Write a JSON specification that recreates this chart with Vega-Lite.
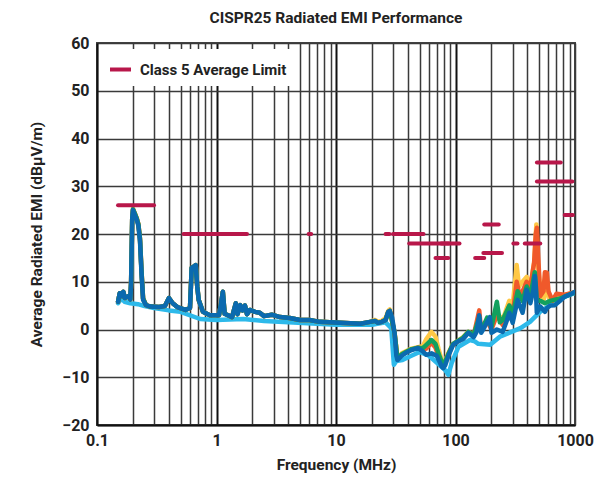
{
  "$schema": "https://vega.github.io/schema/vega-lite/v6.json",
  "width": 478,
  "height": 382,
  "autosize": {"type": "none"},
  "padding": {"left": 97, "top": 43, "right": 29, "bottom": 68},
  "background": "white",
  "title": {"text": "CISPR25 Radiated EMI Performance", "font": "Roboto", "fontSize": 15.5, "fontWeight": "bold", "color": "#222222", "anchor": "middle", "offset": 9},
  "config": {"view": {"stroke": "#444444", "strokeWidth": 2}, "font": "Roboto"},
  "resolve": {"scale": {"color": "independent"}},
  "layer": [
    {
      "data": {"values": [
        {"s":"lb","f":0.15,"v":5.5},{"s":"lb","f":0.16,"v":6.5},{"s":"lb","f":0.17,"v":5.8},{"s":"lb","f":0.19,"v":5.5},{"s":"lb","f":0.22,"v":5.3},{"s":"lb","f":0.25,"v":4.9},{"s":"lb","f":0.3,"v":4.5},{"s":"lb","f":0.4,"v":4.0},{"s":"lb","f":0.5,"v":3.7},{"s":"lb","f":0.73,"v":2.2},{"s":"lb","f":1.0,"v":2.0},{"s":"lb","f":1.67,"v":2.2},{"s":"lb","f":2.5,"v":1.8},{"s":"lb","f":4,"v":1.5},{"s":"lb","f":10,"v":1.0},{"s":"lb","f":20,"v":1.0},{"s":"lb","f":26,"v":1.5},{"s":"lb","f":29,"v":0.3},{"s":"lb","f":30.5,"v":-7.4},{"s":"lb","f":32,"v":-6.6},{"s":"lb","f":36,"v":-6.4},{"s":"lb","f":41,"v":-5.7},{"s":"lb","f":50,"v":-4.7},{"s":"lb","f":60,"v":-5.5},{"s":"lb","f":68,"v":-6.7},{"s":"lb","f":82,"v":-8.5},{"s":"lb","f":87,"v":-9.5},{"s":"lb","f":93,"v":-7.0},{"s":"lb","f":106,"v":-3.6},{"s":"lb","f":132,"v":-2.2},{"s":"lb","f":145,"v":-2.5},{"s":"lb","f":155,"v":-3.0},{"s":"lb","f":195,"v":-3.2},{"s":"lb","f":235,"v":-1.5},{"s":"lb","f":350,"v":0.3},{"s":"lb","f":420,"v":1.6},{"s":"lb","f":510,"v":3.7},{"s":"lb","f":620,"v":5.1},{"s":"lb","f":760,"v":6.5},{"s":"lb","f":1000,"v":7.7},

        {"s":"yl","f":0.15,"v":5.8},{"s":"yl","f":0.155,"v":7.6},{"s":"yl","f":0.161,"v":7.0},{"s":"yl","f":0.166,"v":7.9},{"s":"yl","f":0.171,"v":6.6},{"s":"yl","f":0.185,"v":7.0},{"s":"yl","f":0.19,"v":6.3},{"s":"yl","f":0.193,"v":10},{"s":"yl","f":0.197,"v":23},{"s":"yl","f":0.2,"v":25.2},{"s":"yl","f":0.207,"v":24.3},{"s":"yl","f":0.215,"v":23.3},{"s":"yl","f":0.222,"v":22.0},{"s":"yl","f":0.229,"v":19},{"s":"yl","f":0.236,"v":12},{"s":"yl","f":0.243,"v":6.5},{"s":"yl","f":0.257,"v":5.1},{"s":"yl","f":0.28,"v":4.8},{"s":"yl","f":0.33,"v":4.7},{"s":"yl","f":0.37,"v":4.9},{"s":"yl","f":0.4,"v":6.6},{"s":"yl","f":0.43,"v":5.5},{"s":"yl","f":0.47,"v":4.7},{"s":"yl","f":0.55,"v":4.1},{"s":"yl","f":0.6,"v":4.5},{"s":"yl","f":0.62,"v":12.9},{"s":"yl","f":0.645,"v":13.2},{"s":"yl","f":0.67,"v":13.5},{"s":"yl","f":0.69,"v":9},{"s":"yl","f":0.71,"v":6.2},{"s":"yl","f":0.77,"v":3.7},{"s":"yl","f":0.88,"v":3.0},{"s":"yl","f":1.05,"v":3.0},{"s":"yl","f":1.1,"v":6},{"s":"yl","f":1.13,"v":7.9},{"s":"yl","f":1.17,"v":3.3},{"s":"yl","f":1.35,"v":2.6},{"s":"yl","f":1.45,"v":5.5},{"s":"yl","f":1.5,"v":3.2},{"s":"yl","f":1.58,"v":5.1},{"s":"yl","f":1.65,"v":4.0},{"s":"yl","f":1.73,"v":5.0},{"s":"yl","f":1.8,"v":3.2},{"s":"yl","f":1.9,"v":4.1},{"s":"yl","f":2.1,"v":3.7},{"s":"yl","f":2.3,"v":3.5},{"s":"yl","f":2.5,"v":2.8},{"s":"yl","f":2.9,"v":3.1},{"s":"yl","f":3.4,"v":2.6},{"s":"yl","f":4.1,"v":2.4},{"s":"yl","f":5,"v":2.0},{"s":"yl","f":6,"v":2.0},{"s":"yl","f":7.3,"v":1.6},{"s":"yl","f":10.8,"v":1.4},{"s":"yl","f":16,"v":1.2},{"s":"yl","f":19.3,"v":1.6},{"s":"yl","f":21.2,"v":2.0},{"s":"yl","f":22.5,"v":1.6},{"s":"yl","f":24.2,"v":1.8},{"s":"yl","f":26,"v":2.4},{"s":"yl","f":27.4,"v":3.9},{"s":"yl","f":28.2,"v":4.2},
        {"s":"yl","f":30.9,"v":-0.5},{"s":"yl","f":32.7,"v":-6.0},{"s":"yl","f":35.5,"v":-5.0},{"s":"yl","f":42.9,"v":-4.0},{"s":"yl","f":48.6,"v":-3.7},{"s":"yl","f":53.3,"v":-3.5},{"s":"yl","f":57,"v":-2.0},{"s":"yl","f":62.9,"v":-0.5},{"s":"yl","f":68,"v":-1.5},{"s":"yl","f":72,"v":-4},{"s":"yl","f":76.8,"v":-6.5},{"s":"yl","f":79,"v":-7.5},{"s":"yl","f":86.9,"v":-5.0},{"s":"yl","f":95.5,"v":-3.0},{"s":"yl","f":116,"v":-1.6},{"s":"yl","f":128,"v":-0.5},{"s":"yl","f":142,"v":-1.0},{"s":"yl","f":158,"v":2.0},{"s":"yl","f":164,"v":0},{"s":"yl","f":184,"v":2.0},{"s":"yl","f":200,"v":0.5},{"s":"yl","f":222,"v":3.5},{"s":"yl","f":248,"v":2},{"s":"yl","f":282,"v":6},{"s":"yl","f":301,"v":5},{"s":"yl","f":325,"v":13.5},{"s":"yl","f":340,"v":9},{"s":"yl","f":364,"v":10},{"s":"yl","f":394,"v":11},{"s":"yl","f":423,"v":9},{"s":"yl","f":455,"v":14},{"s":"yl","f":475,"v":22},{"s":"yl","f":490,"v":14},{"s":"yl","f":512,"v":8},{"s":"yl","f":540,"v":6},{"s":"yl","f":560,"v":7},{"s":"yl","f":582,"v":9},{"s":"yl","f":620,"v":6},{"s":"yl","f":680,"v":6.5},{"s":"yl","f":750,"v":6.8},{"s":"yl","f":820,"v":7.2},{"s":"yl","f":1000,"v":7.8},

        {"s":"or","f":0.15,"v":5.8},{"s":"or","f":0.155,"v":7.6},{"s":"or","f":0.161,"v":7.0},{"s":"or","f":0.166,"v":7.9},{"s":"or","f":0.171,"v":6.6},{"s":"or","f":0.185,"v":7.0},{"s":"or","f":0.19,"v":6.3},{"s":"or","f":0.193,"v":10},{"s":"or","f":0.197,"v":23},{"s":"or","f":0.2,"v":25.2},{"s":"or","f":0.207,"v":24.3},{"s":"or","f":0.215,"v":23.3},{"s":"or","f":0.222,"v":22.0},{"s":"or","f":0.229,"v":19},{"s":"or","f":0.236,"v":12},{"s":"or","f":0.243,"v":6.5},{"s":"or","f":0.257,"v":5.1},{"s":"or","f":0.28,"v":4.8},{"s":"or","f":0.33,"v":4.7},{"s":"or","f":0.37,"v":4.9},{"s":"or","f":0.4,"v":6.6},{"s":"or","f":0.43,"v":5.5},{"s":"or","f":0.47,"v":4.7},{"s":"or","f":0.55,"v":4.1},{"s":"or","f":0.6,"v":4.5},{"s":"or","f":0.62,"v":12.9},{"s":"or","f":0.645,"v":13.2},{"s":"or","f":0.67,"v":13.5},{"s":"or","f":0.69,"v":9},{"s":"or","f":0.71,"v":6.2},{"s":"or","f":0.77,"v":3.7},{"s":"or","f":0.88,"v":3.0},{"s":"or","f":1.05,"v":3.0},{"s":"or","f":1.1,"v":6},{"s":"or","f":1.13,"v":7.9},{"s":"or","f":1.17,"v":3.3},{"s":"or","f":1.35,"v":2.6},{"s":"or","f":1.45,"v":5.5},{"s":"or","f":1.5,"v":3.2},{"s":"or","f":1.58,"v":5.1},{"s":"or","f":1.65,"v":4.0},{"s":"or","f":1.73,"v":5.0},{"s":"or","f":1.8,"v":3.2},{"s":"or","f":1.9,"v":4.1},{"s":"or","f":2.1,"v":3.7},{"s":"or","f":2.3,"v":3.5},{"s":"or","f":2.5,"v":2.8},{"s":"or","f":2.9,"v":3.1},{"s":"or","f":3.4,"v":2.6},{"s":"or","f":4.1,"v":2.4},{"s":"or","f":5,"v":2.0},{"s":"or","f":6,"v":2.0},{"s":"or","f":7.3,"v":1.6},{"s":"or","f":10.8,"v":1.4},{"s":"or","f":16,"v":1.2},{"s":"or","f":19.3,"v":1.6},{"s":"or","f":21.2,"v":1.8},{"s":"or","f":22.5,"v":1.4},{"s":"or","f":24.2,"v":1.6},{"s":"or","f":26,"v":2.0},{"s":"or","f":27.4,"v":3.7},{"s":"or","f":28.2,"v":3.9},
        {"s":"or","f":30.9,"v":-0.7},{"s":"or","f":32.7,"v":-6.2},{"s":"or","f":35.5,"v":-5.3},{"s":"or","f":42.9,"v":-4.2},{"s":"or","f":48.6,"v":-3.8},{"s":"or","f":53.3,"v":-4.2},{"s":"or","f":57,"v":-4.0},{"s":"or","f":62.9,"v":-2.8},{"s":"or","f":68,"v":-3.8},{"s":"or","f":72,"v":-5.5},{"s":"or","f":76.8,"v":-7.2},{"s":"or","f":79,"v":-7.8},{"s":"or","f":86.9,"v":-5.3},{"s":"or","f":95.5,"v":-3.1},{"s":"or","f":116,"v":-1.8},{"s":"or","f":128,"v":-0.6},{"s":"or","f":142,"v":-1.2},{"s":"or","f":158,"v":4.0},{"s":"or","f":164,"v":-0.3},{"s":"or","f":184,"v":1.8},{"s":"or","f":200,"v":0.0},{"s":"or","f":222,"v":3.0},{"s":"or","f":248,"v":1.0},{"s":"or","f":282,"v":5},{"s":"or","f":301,"v":3},{"s":"or","f":325,"v":10},{"s":"or","f":345,"v":7},{"s":"or","f":364,"v":8},{"s":"or","f":394,"v":10},{"s":"or","f":423,"v":9},{"s":"or","f":455,"v":14},{"s":"or","f":470,"v":20},{"s":"or","f":480,"v":21.3},{"s":"or","f":495,"v":14},{"s":"or","f":512,"v":7},{"s":"or","f":545,"v":8},{"s":"or","f":560,"v":12},{"s":"or","f":582,"v":11.9},{"s":"or","f":600,"v":8},{"s":"or","f":650,"v":6},{"s":"or","f":700,"v":7.5},{"s":"or","f":820,"v":7.3},{"s":"or","f":1000,"v":7.8},

        {"s":"gr","f":0.15,"v":5.8},{"s":"gr","f":0.155,"v":7.6},{"s":"gr","f":0.161,"v":7.0},{"s":"gr","f":0.166,"v":7.9},{"s":"gr","f":0.171,"v":6.6},{"s":"gr","f":0.185,"v":7.0},{"s":"gr","f":0.19,"v":6.3},{"s":"gr","f":0.193,"v":10},{"s":"gr","f":0.197,"v":23},{"s":"gr","f":0.2,"v":25.2},{"s":"gr","f":0.207,"v":24.3},{"s":"gr","f":0.215,"v":23.3},{"s":"gr","f":0.222,"v":22.0},{"s":"gr","f":0.229,"v":19},{"s":"gr","f":0.236,"v":12},{"s":"gr","f":0.243,"v":6.5},{"s":"gr","f":0.257,"v":5.1},{"s":"gr","f":0.28,"v":4.8},{"s":"gr","f":0.33,"v":4.7},{"s":"gr","f":0.37,"v":4.9},{"s":"gr","f":0.4,"v":6.6},{"s":"gr","f":0.43,"v":5.5},{"s":"gr","f":0.47,"v":4.7},{"s":"gr","f":0.55,"v":4.1},{"s":"gr","f":0.6,"v":4.5},{"s":"gr","f":0.62,"v":12.9},{"s":"gr","f":0.645,"v":13.2},{"s":"gr","f":0.67,"v":13.5},{"s":"gr","f":0.69,"v":9},{"s":"gr","f":0.71,"v":6.2},{"s":"gr","f":0.77,"v":3.7},{"s":"gr","f":0.88,"v":3.0},{"s":"gr","f":1.05,"v":3.0},{"s":"gr","f":1.1,"v":6},{"s":"gr","f":1.13,"v":7.9},{"s":"gr","f":1.17,"v":3.3},{"s":"gr","f":1.35,"v":2.6},{"s":"gr","f":1.45,"v":5.5},{"s":"gr","f":1.5,"v":3.2},{"s":"gr","f":1.58,"v":5.1},{"s":"gr","f":1.65,"v":4.0},{"s":"gr","f":1.73,"v":5.0},{"s":"gr","f":1.8,"v":3.2},{"s":"gr","f":1.9,"v":4.1},{"s":"gr","f":2.1,"v":3.7},{"s":"gr","f":2.3,"v":3.5},{"s":"gr","f":2.5,"v":2.8},{"s":"gr","f":2.9,"v":3.1},{"s":"gr","f":3.4,"v":2.6},{"s":"gr","f":4.1,"v":2.4},{"s":"gr","f":5,"v":2.0},{"s":"gr","f":6,"v":2.0},{"s":"gr","f":7.3,"v":1.6},{"s":"gr","f":10.8,"v":1.4},{"s":"gr","f":16,"v":1.2},{"s":"gr","f":19.3,"v":1.6},{"s":"gr","f":21.2,"v":1.8},{"s":"gr","f":22.5,"v":1.4},{"s":"gr","f":24.2,"v":1.6},{"s":"gr","f":26,"v":2.0},{"s":"gr","f":27.4,"v":3.7},{"s":"gr","f":28.2,"v":3.9},
        {"s":"gr","f":30.9,"v":-0.7},{"s":"gr","f":32.7,"v":-6.2},{"s":"gr","f":35.5,"v":-5.2},{"s":"gr","f":42.9,"v":-4.1},{"s":"gr","f":48.6,"v":-3.8},{"s":"gr","f":53.3,"v":-3.9},{"s":"gr","f":57,"v":-3.2},{"s":"gr","f":62.9,"v":-2.2},{"s":"gr","f":68,"v":-3.0},{"s":"gr","f":72,"v":-5.0},{"s":"gr","f":76.8,"v":-6.8},{"s":"gr","f":79,"v":-7.6},{"s":"gr","f":86.9,"v":-5.2},{"s":"gr","f":95.5,"v":-3.0},{"s":"gr","f":116,"v":-1.7},{"s":"gr","f":128,"v":-0.5},{"s":"gr","f":142,"v":-1.1},{"s":"gr","f":158,"v":2.5},{"s":"gr","f":164,"v":-0.3},{"s":"gr","f":184,"v":2.5},{"s":"gr","f":200,"v":0.5},{"s":"gr","f":222,"v":5.8},{"s":"gr","f":235,"v":1.5},{"s":"gr","f":248,"v":2},{"s":"gr","f":282,"v":5},{"s":"gr","f":301,"v":3},{"s":"gr","f":331,"v":8},{"s":"gr","f":364,"v":6},{"s":"gr","f":394,"v":9},{"s":"gr","f":423,"v":7},{"s":"gr","f":461,"v":12},{"s":"gr","f":479,"v":6},{"s":"gr","f":512,"v":6},{"s":"gr","f":560,"v":5.5},{"s":"gr","f":620,"v":6},{"s":"gr","f":750,"v":6.5},{"s":"gr","f":1000,"v":7.8},

        {"s":"db","f":0.15,"v":5.8},{"s":"db","f":0.155,"v":7.6},{"s":"db","f":0.161,"v":7.0},{"s":"db","f":0.166,"v":7.9},{"s":"db","f":0.171,"v":6.6},{"s":"db","f":0.185,"v":7.0},{"s":"db","f":0.19,"v":6.3},{"s":"db","f":0.193,"v":10},{"s":"db","f":0.197,"v":23},{"s":"db","f":0.2,"v":25.0},{"s":"db","f":0.207,"v":24.0},{"s":"db","f":0.215,"v":23.0},{"s":"db","f":0.222,"v":21.7},{"s":"db","f":0.229,"v":18.5},{"s":"db","f":0.236,"v":11.5},{"s":"db","f":0.243,"v":6.2},{"s":"db","f":0.257,"v":5.1},{"s":"db","f":0.28,"v":4.8},{"s":"db","f":0.33,"v":4.7},{"s":"db","f":0.37,"v":4.9},{"s":"db","f":0.4,"v":6.6},{"s":"db","f":0.43,"v":5.5},{"s":"db","f":0.47,"v":4.7},{"s":"db","f":0.55,"v":4.1},{"s":"db","f":0.6,"v":4.5},{"s":"db","f":0.62,"v":12.9},{"s":"db","f":0.645,"v":13.2},{"s":"db","f":0.67,"v":13.5},{"s":"db","f":0.69,"v":9},{"s":"db","f":0.71,"v":6.2},{"s":"db","f":0.77,"v":3.7},{"s":"db","f":0.88,"v":3.0},{"s":"db","f":1.05,"v":3.0},{"s":"db","f":1.1,"v":6},{"s":"db","f":1.13,"v":7.9},{"s":"db","f":1.17,"v":3.3},{"s":"db","f":1.35,"v":2.6},{"s":"db","f":1.45,"v":5.5},{"s":"db","f":1.5,"v":3.2},{"s":"db","f":1.58,"v":5.1},{"s":"db","f":1.65,"v":4.0},{"s":"db","f":1.73,"v":5.0},{"s":"db","f":1.8,"v":3.2},{"s":"db","f":1.9,"v":4.1},{"s":"db","f":2.1,"v":3.7},{"s":"db","f":2.3,"v":3.5},{"s":"db","f":2.5,"v":2.8},{"s":"db","f":2.9,"v":3.1},{"s":"db","f":3.4,"v":2.6},{"s":"db","f":4.1,"v":2.4},{"s":"db","f":5,"v":2.0},{"s":"db","f":6,"v":2.0},{"s":"db","f":7.3,"v":1.6},{"s":"db","f":10.8,"v":1.4},{"s":"db","f":16,"v":1.2},{"s":"db","f":19.3,"v":1.6},{"s":"db","f":21.2,"v":1.8},{"s":"db","f":22.5,"v":1.4},{"s":"db","f":24.2,"v":1.6},{"s":"db","f":26,"v":2.0},{"s":"db","f":27.4,"v":3.7},{"s":"db","f":28.2,"v":3.9},
        {"s":"db","f":29.5,"v":2.5},{"s":"db","f":30.9,"v":-0.7},{"s":"db","f":32,"v":-5.5},{"s":"db","f":32.7,"v":-6.4},{"s":"db","f":35.5,"v":-5.5},{"s":"db","f":39,"v":-4.8},{"s":"db","f":42.9,"v":-4.3},{"s":"db","f":48.6,"v":-3.9},{"s":"db","f":53.3,"v":-4.6},{"s":"db","f":57,"v":-5.3},{"s":"db","f":63,"v":-5.0},{"s":"db","f":69.7,"v":-5.5},{"s":"db","f":76.8,"v":-7.8},{"s":"db","f":79,"v":-8.1},{"s":"db","f":82,"v":-7.5},{"s":"db","f":86.9,"v":-5.6},{"s":"db","f":95.5,"v":-3.2},{"s":"db","f":105,"v":-2.5},{"s":"db","f":116,"v":-2.0},{"s":"db","f":128,"v":-0.7},{"s":"db","f":142,"v":-1.6},{"s":"db","f":150,"v":-0.5},{"s":"db","f":158,"v":3.0},{"s":"db","f":164,"v":-0.7},{"s":"db","f":175,"v":0.5},{"s":"db","f":184,"v":1.6},{"s":"db","f":194,"v":2.6},{"s":"db","f":200,"v":-0.7},{"s":"db","f":222,"v":0.0},{"s":"db","f":248,"v":-0.5},{"s":"db","f":270,"v":2.0},{"s":"db","f":282,"v":3.5},{"s":"db","f":301,"v":1.4},{"s":"db","f":331,"v":6.2},{"s":"db","f":364,"v":3.5},{"s":"db","f":394,"v":8.3},{"s":"db","f":423,"v":5.5},{"s":"db","f":450,"v":8.5},{"s":"db","f":461,"v":11.2},{"s":"db","f":470,"v":9},{"s":"db","f":479,"v":3.5},{"s":"db","f":512,"v":4.8},{"s":"db","f":560,"v":3.7},{"s":"db","f":582,"v":4.5},{"s":"db","f":620,"v":5.0},{"s":"db","f":680,"v":5.1},{"s":"db","f":750,"v":6.0},{"s":"db","f":820,"v":6.9},{"s":"db","f":900,"v":7.3},{"s":"db","f":1000,"v":7.9}
      ]},
      "mark": {"type": "line", "strokeWidth": 4.5, "strokeJoin": "round", "strokeCap": "round", "clip": true},
      "encoding": {
        "x": {
          "field": "f", "type": "quantitative",
          "scale": {"type": "log", "domain": [0.1, 1000]},
          "axis": {
            "title": "Frequency (MHz)",
            "values": [0.1,0.2,0.3,0.4,0.5,0.6,0.7,0.8,0.9,1,2,3,4,5,6,7,8,9,10,20,30,40,50,60,70,80,90,100,200,300,400,500,600,700,800,900,1000],
            "labelExpr": "(datum.value == 0.1 || datum.value == 1 || datum.value == 10 || datum.value == 100 || datum.value == 1000) ? datum.label : ''",
            "format": "~g",
            "grid": true,
            "gridColor": {"condition": {"test": "datum.value == 1 || datum.value == 10 || datum.value == 100", "value": "#111111"}, "value": "#3a3a3a"},
            "gridWidth": {"condition": {"test": "datum.value == 1 || datum.value == 10 || datum.value == 100", "value": 2}, "value": 1.5},
            "ticks": false,
            "domainColor": "#111111", "domainWidth": 2,
            "labelFlush": false, "labelOverlap": false,
            "labelFont": "Roboto", "labelFontSize": 16, "labelFontWeight": "bold", "labelColor": "#222222", "labelPadding": 7,
            "titleFont": "Roboto", "titleFontSize": 15.5, "titleFontWeight": "bold", "titleColor": "#222222", "titlePadding": 9
          }
        },
        "y": {
          "field": "v", "type": "quantitative",
          "scale": {"domain": [-20, 60]},
          "axis": {
            "title": "Average Radiated EMI (dBµV/m)",
            "values": [-20,-10,0,10,20,30,40,50,60],
            "grid": true, "gridColor": "#3a3a3a", "gridWidth": 1.5,
            "ticks": false,
            "domainColor": "#111111", "domainWidth": 2,
            "labelFont": "Roboto", "labelFontSize": 16, "labelFontWeight": "bold", "labelColor": "#222222", "labelPadding": 8,
            "titleFont": "Roboto", "titleFontSize": 15.5, "titleFontWeight": "bold", "titleColor": "#222222", "titlePadding": 17
          }
        },
        "color": {
          "field": "s", "type": "nominal",
          "scale": {"domain": ["lb","yl","or","gr","db"], "range": ["#2DB9EA","#FFC845","#F0592B","#12A05E","#0B6AAF"]},
          "legend": null
        }
      }
    },
    {
      "data": {"values": [
        {"a":0.15,"b":0.3,"l":26},
        {"a":0.53,"b":1.8,"l":20},
        {"a":5.9,"b":6.2,"l":20},
        {"a":26,"b":28,"l":20},
        {"a":30,"b":54,"l":20},
        {"a":41,"b":88,"l":18},
        {"a":76,"b":108,"l":18},
        {"a":68,"b":87,"l":15},
        {"a":146,"b":174,"l":15},
        {"a":171,"b":245,"l":16},
        {"a":174,"b":230,"l":22},
        {"a":305,"b":330,"l":18},
        {"a":380,"b":512,"l":18},
        {"a":480,"b":760,"l":35},
        {"a":480,"b":950,"l":31},
        {"a":820,"b":960,"l":24}
      ]},
      "mark": {"type": "rule", "strokeWidth": 4, "strokeCap": "round"},
      "encoding": {
        "x": {"field": "a", "type": "quantitative"},
        "x2": {"field": "b"},
        "y": {"field": "l", "type": "quantitative"},
        "color": {
          "datum": "Class 5 Average Limit",
          "scale": {"range": ["#B8174A"]},
          "legend": {
            "title": null, "orient": "none", "legendX": 3, "legendY": 6,
            "fillColor": "white", "padding": 8,
            "symbolType": "stroke", "symbolSize": 440, "symbolStrokeWidth": 4,
            "labelFont": "Roboto", "labelFontSize": 15, "labelFontWeight": "bold", "labelColor": "#222222", "labelOffset": 7
          }
        }
      }
    }
  ]
}
